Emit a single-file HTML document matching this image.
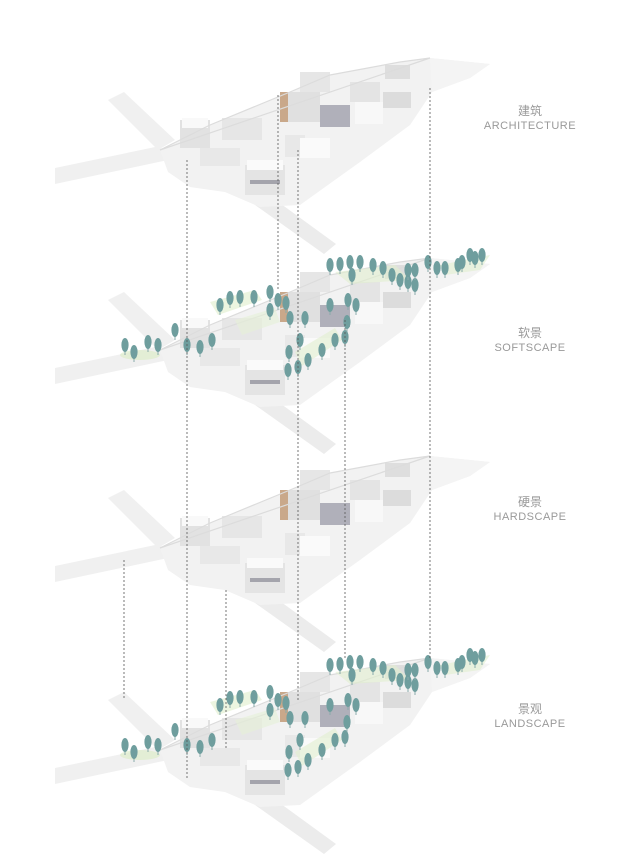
<!DOCTYPE html>
<html><head><meta charset="utf-8"><style>
body{margin:0;background:#fff;width:640px;height:860px;overflow:hidden}
.l{font-family:"Liberation Sans","Noto Sans CJK SC",sans-serif;fill:#999}
</style></head><body>
<svg width="640" height="860" viewBox="0 0 640 860" xmlns="http://www.w3.org/2000/svg">
<defs>
<g id="site">
  <polygon points="55,168 160,146 168,160 55,184" fill="#f0f0f0"/>
  <polygon points="108,100 124,92 175,140 158,150" fill="#f0f0f0"/>
  <polygon points="248,200 266,193 336,244 324,254" fill="#ececec"/>
  <polygon points="160,150 210,125 290,92 330,75 400,62 430,58 490,64 470,78 432,92 410,125 360,162 300,205 260,207 225,192 190,187 168,172" fill="#f2f2f2"/>
  <polygon points="430,58 490,64 470,78 432,92" fill="#f4f4f4"/>
  <rect x="180" y="120" width="30" height="28" fill="#e2e2e2"/>
  <rect x="182" y="118" width="26" height="10" fill="#f9f9f9"/>
  <rect x="222" y="118" width="40" height="22" fill="#e6e6e6"/>
  <rect x="245" y="165" width="40" height="30" fill="#e4e4e4"/>
  <rect x="247" y="160" width="36" height="10" fill="#fafafa"/>
  <rect x="250" y="180" width="30" height="4" fill="#a4a4ac"/>
  <rect x="200" y="148" width="40" height="18" fill="#e8e8e8"/>
  <rect x="285" y="135" width="20" height="22" fill="#e8e8e8"/>
  <rect x="300" y="138" width="30" height="20" fill="#fafafa"/>
  <rect x="280" y="92" width="40" height="30" fill="#e0e0e0"/>
  <rect x="280" y="92" width="8" height="30" fill="#c9a88a"/>
  <rect x="320" y="105" width="30" height="22" fill="#b0b0ba"/>
  <rect x="300" y="72" width="30" height="20" fill="#e6e6e6"/>
  <rect x="355" y="102" width="28" height="22" fill="#f8f8f8"/>
  <rect x="350" y="82" width="30" height="20" fill="#e4e4e4"/>
  <rect x="383" y="92" width="28" height="16" fill="#dcdcdc"/>
  <rect x="385" y="65" width="25" height="14" fill="#dedede"/>
  <polygon points="160,150 210,125 290,92 330,75 400,62 430,58" fill="none" stroke="#dcdcdc" stroke-width="1.2"/>
</g>
<g id="tree"><line x1="0" y1="4" x2="0" y2="10" stroke="#8aa" stroke-width="1"/><ellipse cx="0" cy="0" rx="3.6" ry="7" fill="#6f9e9e"/></g>
<g id="grass" opacity="0.6">
  <ellipse cx="140" cy="355" rx="20" ry="5" fill="#dcedc4"/>
  <polygon points="210,302 255,290 262,300 218,315" fill="#e0efcc"/>
  <polygon points="335,272 395,265 410,280 350,284" fill="#e2f0d0"/>
  <polygon points="440,265 490,255 480,270 445,275" fill="#e2f0d0"/>
  <polygon points="295,352 335,328 342,340 302,366" fill="#e2f0d0"/>
  <polygon points="235,320 275,308 280,322 242,335" fill="#e6f1d8"/>
</g>
<g id="trees">
<use href="#tree" x="125" y="345"/><use href="#tree" x="134" y="352"/><use href="#tree" x="148" y="342"/><use href="#tree" x="158" y="345"/>
<use href="#tree" x="175" y="330"/><use href="#tree" x="187" y="345"/><use href="#tree" x="200" y="347"/><use href="#tree" x="212" y="340"/>
<use href="#tree" x="220" y="305"/><use href="#tree" x="230" y="298"/><use href="#tree" x="240" y="297"/><use href="#tree" x="254" y="297"/>
<use href="#tree" x="270" y="292"/><use href="#tree" x="278" y="300"/><use href="#tree" x="286" y="303"/><use href="#tree" x="270" y="310"/>
<use href="#tree" x="290" y="318"/><use href="#tree" x="305" y="318"/><use href="#tree" x="300" y="340"/><use href="#tree" x="289" y="352"/>
<use href="#tree" x="288" y="370"/><use href="#tree" x="298" y="367"/><use href="#tree" x="308" y="360"/><use href="#tree" x="322" y="350"/>
<use href="#tree" x="335" y="340"/><use href="#tree" x="345" y="337"/><use href="#tree" x="348" y="300"/><use href="#tree" x="356" y="305"/>
<use href="#tree" x="347" y="322"/><use href="#tree" x="330" y="305"/><use href="#tree" x="330" y="265"/><use href="#tree" x="340" y="264"/>
<use href="#tree" x="350" y="262"/><use href="#tree" x="360" y="262"/><use href="#tree" x="373" y="265"/><use href="#tree" x="383" y="268"/>
<use href="#tree" x="352" y="275"/><use href="#tree" x="392" y="275"/><use href="#tree" x="400" y="280"/><use href="#tree" x="408" y="282"/>
<use href="#tree" x="415" y="285"/><use href="#tree" x="408" y="270"/><use href="#tree" x="415" y="270"/><use href="#tree" x="428" y="262"/>
<use href="#tree" x="437" y="268"/><use href="#tree" x="445" y="268"/><use href="#tree" x="458" y="265"/><use href="#tree" x="462" y="262"/>
<use href="#tree" x="470" y="255"/><use href="#tree" x="475" y="258"/><use href="#tree" x="482" y="255"/>
</g>
</defs>
<use href="#site"/>
<g transform="translate(0,200)"><use href="#site"/></g>
<use href="#grass"/><use href="#trees"/>
<g transform="translate(0,398)"><use href="#site"/></g>
<g transform="translate(0,600)"><use href="#site"/></g>
<g transform="translate(0,400)"><use href="#grass"/><use href="#trees"/></g>
<g stroke="#555" stroke-width="0.8" stroke-dasharray="2,2" fill="none">
<line x1="187" y1="160" x2="187" y2="780"/>
<line x1="278" y1="95" x2="278" y2="290"/>
<line x1="298" y1="150" x2="298" y2="700"/>
<line x1="430" y1="88" x2="430" y2="660"/>
<line x1="124" y1="560" x2="124" y2="700"/>
<line x1="226" y1="590" x2="226" y2="750"/>
<line x1="345" y1="320" x2="345" y2="660"/>
</g>
<g class="l" text-anchor="middle">
<text x="530" y="115" font-size="12">建筑</text>
<text x="530" y="129" font-size="11" letter-spacing="0.5">ARCHITECTURE</text>
<text x="530" y="337" font-size="12">软景</text>
<text x="530" y="351" font-size="11" letter-spacing="0.5">SOFTSCAPE</text>
<text x="530" y="506" font-size="12">硬景</text>
<text x="530" y="520" font-size="11" letter-spacing="0.5">HARDSCAPE</text>
<text x="530" y="713" font-size="12">景观</text>
<text x="530" y="727" font-size="11" letter-spacing="0.5">LANDSCAPE</text>
</g>
</svg>
</body></html>
